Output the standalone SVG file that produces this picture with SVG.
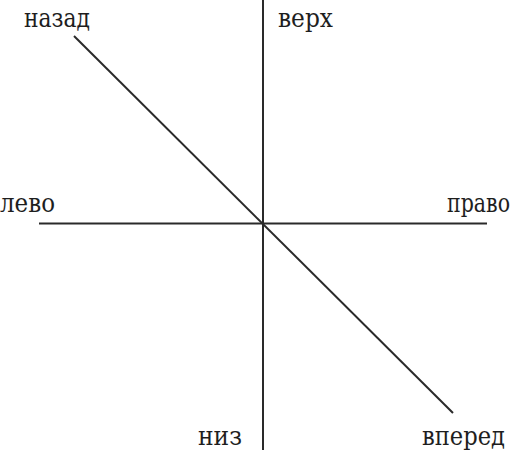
<svg xmlns="http://www.w3.org/2000/svg" width="521" height="450" viewBox="0 0 521 450">
<style>
.ax{stroke:#2a2a2a;stroke-width:2;fill:none}
.lb{font-family:"DejaVu Serif","Liberation Serif",serif;font-size:26px;fill:#1e1e1e}
</style>
<rect width="521" height="450" fill="#fff"/>
<g id="connectors">
<line class="ax" x1="263" y1="0" x2="263" y2="450"/>
<line class="ax" x1="39" y1="223.5" x2="487" y2="223.5"/>
<line class="ax" x1="74" y1="36" x2="453" y2="413"/>
</g>
<g id="nazad"><text class="lb" x="24" y="27" textLength="66" lengthAdjust="spacingAndGlyphs">назад</text></g>
<g id="verh"><text class="lb" x="278" y="27" textLength="55" lengthAdjust="spacingAndGlyphs">верх</text></g>
<g id="levo"><text class="lb" x="0" y="212" textLength="55" lengthAdjust="spacingAndGlyphs">лево</text></g>
<g id="pravo"><text class="lb" x="447" y="212" textLength="63" lengthAdjust="spacingAndGlyphs">право</text></g>
<g id="niz"><text class="lb" x="198" y="445" textLength="44" lengthAdjust="spacingAndGlyphs">низ</text></g>
<g id="vpered"><text class="lb" x="422" y="445" textLength="83" lengthAdjust="spacingAndGlyphs">вперед</text></g>
</svg>
